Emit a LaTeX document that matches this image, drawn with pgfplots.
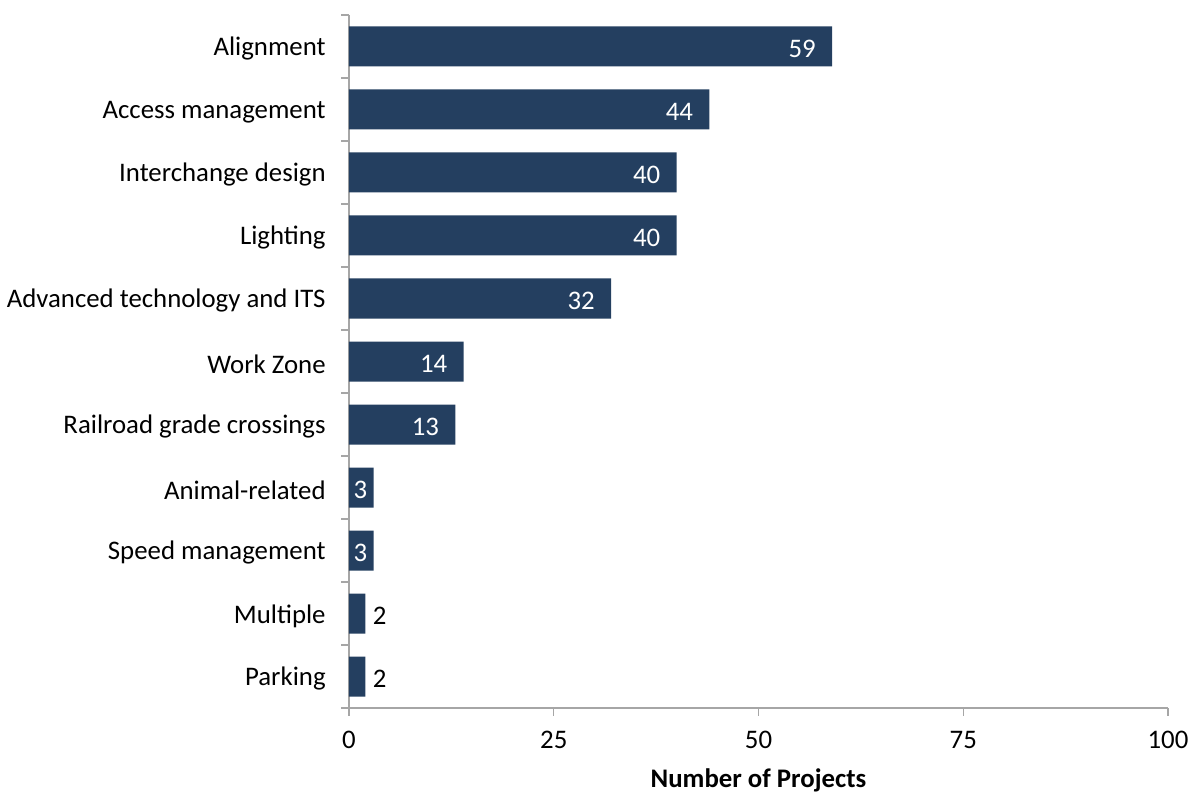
\documentclass[border=0pt]{standalone}
\usepackage{pgfplots}
\pgfplotsset{compat=1.18}
\usepackage{fontspec}
\setmainfont{Carlito}
\definecolor{barblue}{RGB}{36,63,96}
\definecolor{axgray}{RGB}{166,166,166}

\begin{document}
\begin{tikzpicture}[font=\fontsize{13.4}{16}\selectfont]
\begin{axis}[
  scale only axis, width=409.5pt, height=346.5pt,
  xbar, bar width=20pt, bar shift=0pt,
  xmin=0, xmax=100, xtick={0,25,...,100},
  ymin=-0.5, ymax=10.5, y dir=reverse,
  ytick={-0.5,0.5,...,10.5}, yticklabels={},
  extra y ticks={0,1,...,10},
  extra y tick labels={Alignment,Access management,Interchange design,Lighting,Advanced technology and ITS,Work Zone,Railroad grade crossings,Animal-related,Speed management,Multiple,Parking},
  extra y tick style={major tick length=0pt},
  axis lines*=left, axis line style={-, draw=axgray, line width=0.7pt},
  tick align=outside, major tick length=3.8pt,
  tick style={draw=axgray, line width=0.7pt},
  yticklabel style={inner sep=0pt, xshift=-11.5pt, yshift=-1.2pt},
  xticklabel style={inner sep=0pt, yshift=-7.5pt},
  /pgf/number format/assume math mode=true,
  xlabel={\bfseries Number of Projects},
  xlabel style={inner sep=0pt, yshift=-10pt},
  point meta=x,
  nodes near coords,
  every node near coord/.append style={inner sep=0pt, yshift=-1pt},
]
\addplot[fill=barblue, draw=none,
  every node near coord/.append style={text=white, anchor=east, xshift=-8pt}]
  coordinates {(59,0) (44,1) (40,2) (40,3) (32,4) (14,5) (13,6)};
\addplot[fill=barblue, draw=none,
  every node near coord/.append style={text=white, anchor=east, xshift=-3pt}]
  coordinates {(3,7) (3,8)};
\addplot[fill=barblue, draw=none,
  every node near coord/.append style={text=black, anchor=west, xshift=3.5pt}]
  coordinates {(2,9) (2,10)};
\coordinate (tp) at (rel axis cs:1,1);
\coordinate (bt) at (rel axis cs:0,0);
\end{axis}
\path ([shift={(12.5pt,7.5pt)}]tp) ([shift={(-174.5pt,-44pt)}]bt);
\end{tikzpicture}
\end{document}
